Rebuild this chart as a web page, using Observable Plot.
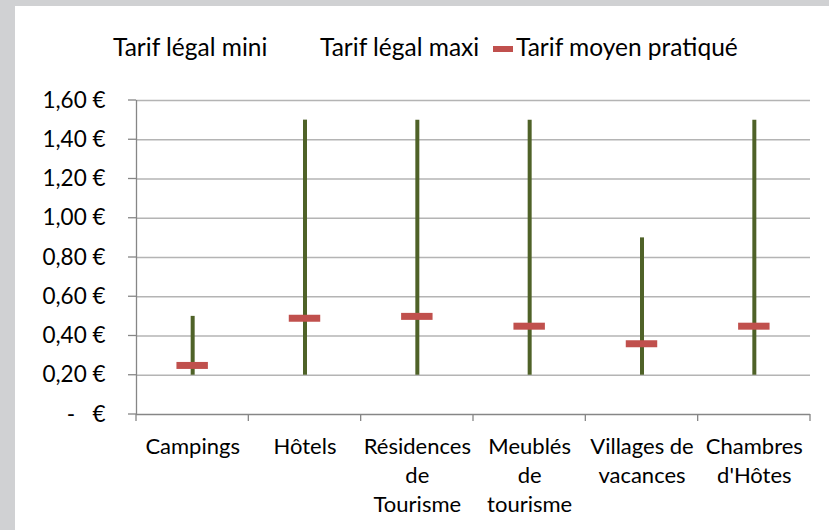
<!DOCTYPE html>
<html>
<head>
<meta charset="utf-8">
<script src="https://cdn.jsdelivr.net/npm/d3@7"></script>
<script src="https://cdn.jsdelivr.net/npm/@observablehq/plot@0.6"></script>
<style>
  html, body { margin: 0; padding: 0; background: #ffffff; }
  #frame { position: relative; width: 829px; height: 530px; background: #d0d1d3; overflow: hidden; }
  #inner { position: absolute; left: 15px; top: 6px; width: 814px; height: 524px; background: #ffffff; }
  #legend { position: absolute; left: 0; top: 0; width: 814px; height: 80px; font-family: Lato, sans-serif; font-size: 24.5px; color: #000; }
  .li { position: absolute; top: 26px; white-space: nowrap; line-height: 30px; }
  .sw { display: inline-block; width: 20px; height: 6px; background: #c0504d; vertical-align: middle; margin-right: 3px; position: relative; top: -1px; }
  #chart { position: absolute; left: 0; top: 0; }
</style>
</head>
<body>
<div id="frame"><div id="inner">
  <div id="chart"></div>
  <div id="legend"></div>
</div></div>
<script>
const categories = ["Campings", "Hôtels", "Résidences de Tourisme", "Meublés de tourisme", "Villages de vacances", "Chambres d'Hôtes"];
const categoryLabels = ["Campings", "Hôtels", "Résidences\nde\nTourisme", "Meublés\nde\ntourisme", "Villages de\nvacances", "Chambres\nd'Hôtes"];
const tarifMini = [0.20, 0.20, 0.20, 0.20, 0.20, 0.20];
const tarifMaxi = [0.50, 1.50, 1.50, 1.50, 0.90, 1.50];
const tarifMoyen = [0.25, 0.49, 0.50, 0.45, 0.36, 0.45];
const yTicks = [0, 0.2, 0.4, 0.6, 0.8, 1.0, 1.2, 1.4, 1.6];
const seriesNames = ["Tarif légal mini", "Tarif légal maxi", "Tarif moyen pratiqué"];

const rows = categories.map((c, i) => ({
  i, cat: c, label: categoryLabels[i], mini: tarifMini[i], maxi: tarifMaxi[i], moyen: tarifMoyen[i]
}));
const bounds = d3.range(categories.length + 1);
const fmt = d => d === 0 ? "-   €" : d.toFixed(2).replace(".", ",") + " €";

const W = 814, H = 524;
const plot = Plot.plot({
  width: W, height: H,
  marginLeft: 121, marginRight: 19, marginTop: 94, marginBottom: 116,
  style: { fontFamily: "Lato, sans-serif", fontSize: "22px", color: "#000", background: "transparent" },
  x: { type: "linear", domain: [0, categories.length], axis: null },
  y: { domain: [0, 1.6], axis: null },
  marks: [
    Plot.ruleY(yTicks.filter(d => d > 0), { stroke: "#b4b4b4", strokeWidth: 1.3 }),
    Plot.ruleY([0], { stroke: "#868686", strokeWidth: 1.3 }),
    Plot.ruleX([0], { stroke: "#868686", strokeWidth: 1.3 }),
    Plot.ruleY(yTicks, { y: d => d,
      render(index, scales, values, dims) {
        const g = d3.create("svg:g");
        for (const i of index) {
          const y = scales.y(yTicks[i]);
          g.append("line").attr("x1", dims.marginLeft - 8).attr("x2", dims.marginLeft)
            .attr("y1", y).attr("y2", y).attr("stroke", "#868686").attr("stroke-width", 1.3);
        }
        return g.node();
      } }),
    Plot.text(yTicks, { x: 0, y: d => d, text: fmt, textAnchor: "end", dx: -31, fontSize: 22.5 }),
    Plot.ruleX(bounds, { x: d => d,
      render(index, scales, values, dims) {
        const g = d3.create("svg:g");
        const y0 = scales.y(0);
        for (const i of index) {
          const x = scales.x(bounds[i]);
          g.append("line").attr("x1", x).attr("x2", x).attr("y1", y0).attr("y2", y0 + 7)
            .attr("stroke", "#868686").attr("stroke-width", 1.3);
        }
        return g.node();
      } }),
    Plot.ruleX(rows, { x: d => d.i + 0.5, y1: "mini", y2: "maxi", stroke: "#4f6228", strokeWidth: 4 }),
    Plot.ruleY(rows, { y: "moyen", x1: d => d.i + 0.36, x2: d => d.i + 0.64, stroke: "#c0504d", strokeWidth: 7 }),
    Plot.text(rows, { x: d => d.i + 0.5, y: 0, text: "label", lineAnchor: "top", dy: 19, fontSize: 22, lineHeight: 1.32 })
  ]
});
document.getElementById("chart").appendChild(plot);

const legend = document.getElementById("legend");
const legendPos = [98, 305, 478];
seriesNames.forEach((n, k) => {
  const el = document.createElement("div");
  el.className = "li";
  el.style.left = legendPos[k] + "px";
  if (k === 2) {
    const sw = document.createElement("span");
    sw.className = "sw";
    el.appendChild(sw);
  }
  el.appendChild(document.createTextNode(n));
  legend.appendChild(el);
});
</script>
</body>
</html>
